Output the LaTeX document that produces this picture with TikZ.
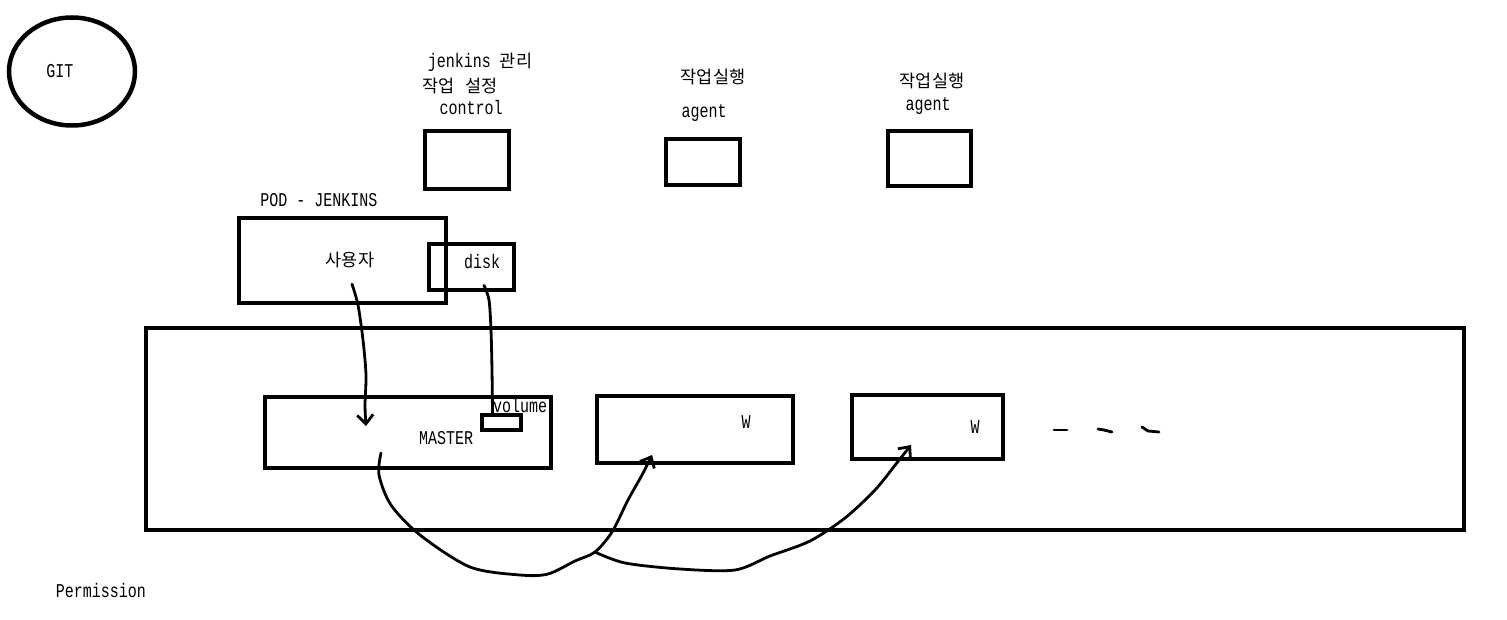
\documentclass[tikz,border=0pt]{standalone}
\usepackage{fontspec}
\usepackage{graphicx}
\setmainfont{Liberation Mono}
\newfontfamily\kr{Noto Sans CJK KR}
\newcommand\tallt[1]{\scalebox{1}[1.3]{#1}}
\newcommand\krt[1]{{\kr\fontsize{17.5}{20}\selectfont #1}}
\usetikzlibrary{arrows.meta,shapes.geometric}
\tikzset{
  box/.style={draw, line width=4.5, rectangle, inner sep=0},
  txt/.style={inner sep=0, font=\fontsize{15}{17}\selectfont},
  curve/.style={line width=2.8, line cap=round, line join=round},
  tip/.style={-{Straight Barb[length=9pt,width=16pt,line width=2.8pt]}}
}
\begin{document}
\begin{tikzpicture}[x=1pt,y=-1pt]
\useasboundingbox (0,0) rectangle (1507,620);
% GIT
\node[draw, ellipse, line width=4.5, minimum width=126, minimum height=108] (git) at (72,71.5) {};
\node[txt] (gitt) at (60,71) {\tallt{GIT}};
% top boxes
\node[box, minimum width=84, minimum height=58] (ctrl) at (467,160) {};
\node[box, minimum width=74, minimum height=46] (ag1) at (703,162) {};
\node[box, minimum width=83, minimum height=55] (ag2) at (929.5,158.5) {};
\node[txt] (t1) at (480,62) {\tallt{jenkins} \krt{관리}};
\node[txt] (t2) at (460,86) {\krt{작업\hspace{0.6em}설정}};
\node[txt] (t3) at (471,108) {\tallt{control}};
\node[txt] (t4) at (713,77) {\krt{작업실행}};
\node[txt] (t5) at (704,113) {\tallt{agent}};
\node[txt] (t6) at (932,81) {\krt{작업실행}};
\node[txt] (t7) at (928,106) {\tallt{agent}};
% pod
\node[txt] (podt) at (319,200) {\tallt{POD - JENKINS}};
\node[box, minimum width=207, minimum height=85] (pod) at (342.5,260.5) {};
\node[box, minimum width=85, minimum height=46] (disk) at (471.5,267) {};
\node[txt] (user) at (350,260) {\krt{사용자}};
\node[txt] (diskt) at (482,262) {\tallt{disk}};
% main
\node[box, minimum width=1318, minimum height=202] (main) at (805,429) {};
\node[box, minimum width=286, minimum height=71] (master) at (408,432.5) {};
\node[draw, line width=3.5, inner sep=0, minimum width=39, minimum height=15] (vol) at (501.5,422.5) {};
\node[txt] (volt) at (520,406) {\tallt{volume}};
\node[txt] (mastert) at (446,438) {\tallt{MASTER}};
\node[box, minimum width=196, minimum height=67] (w1) at (695,429.5) {};
\node[box, minimum width=151, minimum height=64] (w2) at (927.5,427) {};
\node[txt] (w1t) at (746,422) {\tallt{W}};
\node[txt] (w2t) at (975,427) {\tallt{W}};
\node[txt] (perm) at (101,591) {\tallt{Permission}};
% dashes
\draw[curve] (1054,430) -- (1067,430);
\draw[curve] (1098,429) -- (1104,430) -- (1112,432);
\draw[curve] (1142,427) -- (1148,431) -- (1159,432);
% connectors
\coordinate (uend) at (366,426);
\draw[curve, tip] (user.south) ++(2,16) coordinate (ustart)
  plot[smooth] coordinates {(ustart) (358,305) (363,340) (366,375) (365,405) (uend)};
\draw[curve] (diskt.south) ++(2,16) coordinate (dstart)
  plot[smooth] coordinates {(dstart) (489,300) (491,330) (492,370) ([xshift=-9pt]vol.north)};
\coordinate (mstart) at (381,453);
\coordinate (junc) at (595,552);
\coordinate (w1end) at (652,455);
\coordinate (w2end) at (911,445);
\draw[curve, tip] plot[smooth] coordinates {(mstart) (379,475) (391,505) (420,535) (470,567) (520,575) (548,574) (575,561) (junc) (612,532) (628,500) (642,475) (w1end)};
\draw[curve, tip] plot[smooth] coordinates {(junc) (625,563) (680,569) (735,570) (770,556) (810,541) (845,518) (875,490) (896,464) (w2end)};
\end{tikzpicture}
\end{document}
